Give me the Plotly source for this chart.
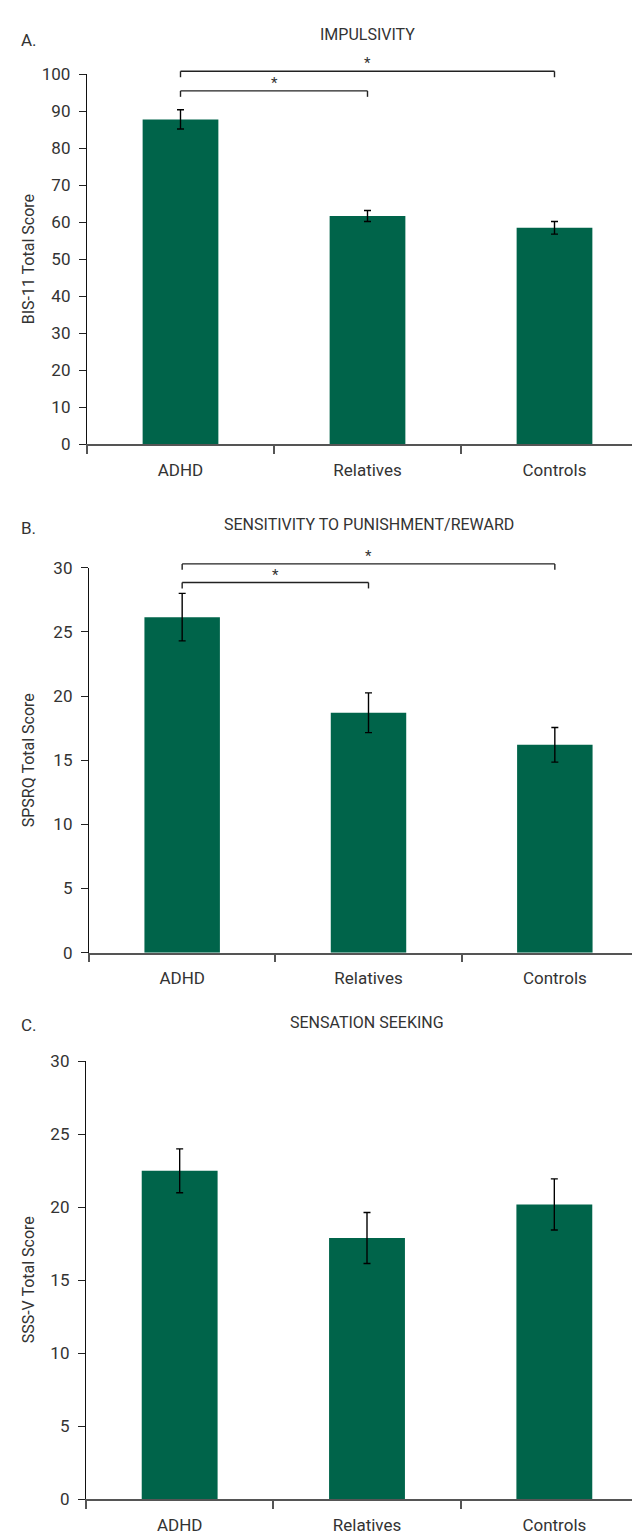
import plotly.graph_objects as go

# ---------------- data ----------------
groups = ["ADHD", "Relatives", "Controls"]

bis11_mean = [87.8, 61.7, 58.5]
bis11_sem = [2.6, 1.5, 1.7]

spsrq_mean = [26.15, 18.7, 16.2]
spsrq_sem = [1.85, 1.55, 1.35]

sssv_mean = [22.5, 17.9, 20.2]
sssv_sem = [1.5, 1.75, 1.75]

panel_letters = ["A.", "B.", "C."]
panel_titles = ["IMPULSIVITY", "SENSITIVITY TO PUNISHMENT/REWARD", "SENSATION SEEKING"]
y_titles = ["BIS-11 Total Score", "SPSRQ Total Score", "SSS-V Total Score"]
y_max = [100, 30, 30]
y_dtick = [10, 5, 5]

# significance brackets: (from group index, to group index, level in score units)
brackets_A = [(0, 2, 100.8), (0, 1, 95.5)]
brackets_B = [(0, 2, 30.3), (0, 1, 28.85)]
brackets_C = []

# ---------------- layout constants ----------------
W, H = 640, 1538
BAR_COLOR = "#00644A"
TEXT = "#333333"
FONT = "Roboto, Lato, Open Sans, sans-serif"

# pixel geometry of each panel: (left px, top px, bottom px)
geo = [(79, 57, 432), (81, 557, 947), (78, 1057, 1501)]
title_px = [17, 513, 1018]
letter_px = [22, 517, 1020]

means = [bis11_mean, spsrq_mean, sssv_mean]
sems = [bis11_sem, spsrq_sem, sssv_sem]
brackets = [brackets_A, brackets_B, brackets_C]

fig = go.Figure()
annotations = []
shapes = []

for i in range(3):
    n = i + 1
    xa = "x" if n == 1 else f"x{n}"
    ya = "y" if n == 1 else f"y{n}"
    fig.add_trace(go.Bar(
        x=groups, y=means[i], xaxis=xa, yaxis=ya,
        width=0.405,
        marker=dict(color=BAR_COLOR, line=dict(width=0)),
        error_y=dict(type="data", array=sems[i], visible=True,
                     color="black", thickness=1.4, width=3.5),
        showlegend=False, hoverinfo="x+y",
    ))
    left, top, bottom = geo[i]
    xdom = [left / W, 1.0]
    ydom = [1 - bottom / H, 1 - top / H]
    xkey = "xaxis" if n == 1 else f"xaxis{n}"
    ykey = "yaxis" if n == 1 else f"yaxis{n}"
    fig.update_layout(**{
        xkey: dict(domain=xdom, anchor=ya, type="category",
                   categoryorder="array", categoryarray=groups,
                   range=[-0.5, 2.5], tickson="boundaries",
                   ticks="outside", ticklen=8, tickwidth=1.5, tickcolor="#555555",
                   showline=True, linecolor="#555555", linewidth=1.6,
                   showgrid=False, zeroline=False, fixedrange=True,
                   tickfont=dict(size=17, color=TEXT, family=FONT),
                   ticklabelstandoff=9),
        ykey: dict(domain=ydom, anchor=xa, range=[0, y_max[i]], dtick=y_dtick[i],
                   ticks="outside", ticklen=7, tickwidth=1.2, tickcolor="#222222",
                   showline=True, linecolor="#111111", linewidth=1.3,
                   showgrid=False, zeroline=False, fixedrange=True,
                   tickfont=dict(size=17, color=TEXT, family=FONT),
                   ticklabelstandoff=5),
    })

    xdref = f"{xa} domain"
    ydref = f"{ya} domain"
    # panel title
    annotations.append(dict(text=panel_titles[i], xref=xdref, x=0.5, xanchor="center",
                            yref="paper", y=1 - title_px[i] / H, yanchor="middle",
                            showarrow=False, font=dict(size=16, color=TEXT, family=FONT)))
    # panel letter
    annotations.append(dict(text=panel_letters[i], xref="paper", x=11 / W, xanchor="left",
                            yref="paper", y=1 - letter_px[i] / H, yanchor="middle",
                            showarrow=False, font=dict(size=17, color=TEXT, family=FONT)))
    # y-axis title
    annotations.append(dict(text=y_titles[i], xref="paper", x=20 / W, xanchor="center",
                            yref=ydref, y=0.5, yanchor="middle", textangle=-90,
                            showarrow=False, font=dict(size=16, color=TEXT, family=FONT)))

    # significance brackets
    ng = len(groups)
    drop = 6 / (bottom - top)        # bracket leg length in domain units
    for (g0, g1, level) in brackets[i]:
        x0 = (g0 + 0.5) / ng
        x1 = (g1 + 0.5) / ng
        yl = level / y_max[i]
        for (ax0, ay0, ax1, ay1) in [(x0, yl - drop, x0, yl), (x0, yl, x1, yl), (x1, yl, x1, yl - drop)]:
            shapes.append(dict(type="line", xref=xdref, yref=ydref,
                               x0=ax0, y0=ay0, x1=ax1, y1=ay1,
                               line=dict(color="#222222", width=1.4)))
        annotations.append(dict(text="*", xref=xdref, x=(x0 + x1) / 2, xanchor="center",
                                yref=ydref, y=yl, yanchor="bottom", yshift=-3,
                                showarrow=False, font=dict(size=15, color=TEXT, family=FONT)))

fig.update_layout(
    width=W, height=H,
    margin=dict(l=0, r=0, t=0, b=0),
    paper_bgcolor="white", plot_bgcolor="white",
    font=dict(family=FONT, color=TEXT),
    annotations=annotations, shapes=shapes,
    bargap=0.6,
)

fig.write_html("out.html")
